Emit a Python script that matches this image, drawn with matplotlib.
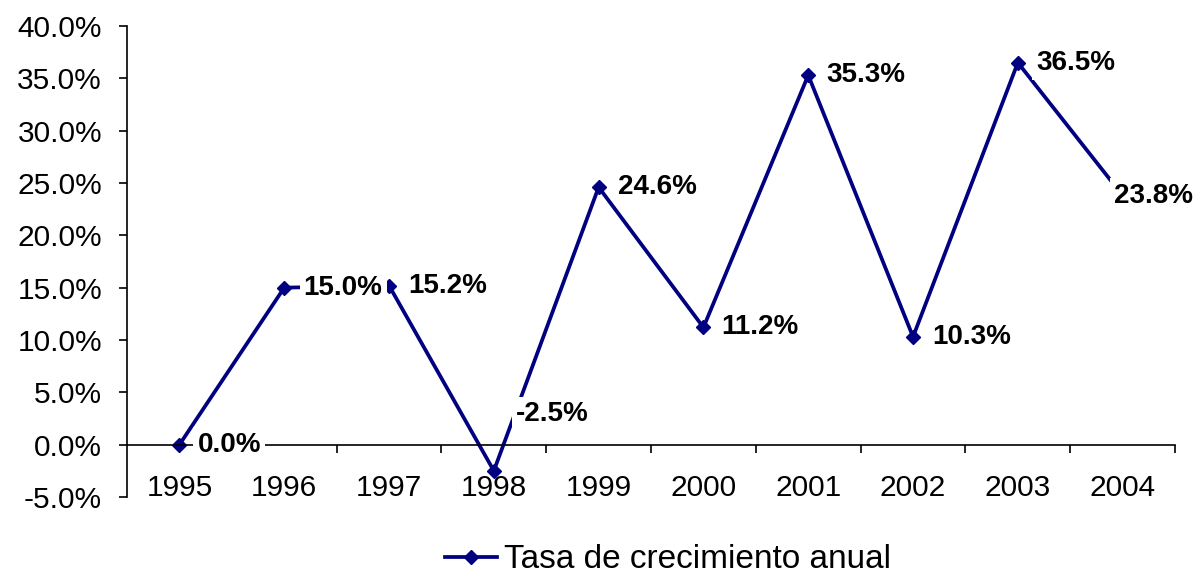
import matplotlib
matplotlib.use("Agg")
import matplotlib.pyplot as plt

# datos
years = ["1995", "1996", "1997", "1998", "1999", "2000", "2001", "2002", "2003", "2004"]
growth = [0.0, 15.0, 15.2, -2.5, 24.6, 11.2, 35.3, 10.3, 36.5, 23.8]
series_name = "Tasa de crecimiento anual"

# desplazamiento de etiquetas (puntos)
label_offsets = [(13, 0), (14, 0), (14, 0), (16, 41), (14, 0),
                 (13, 0), (13, 0), (14, 0), (13, 0), (-6, 0)]

plt.rcParams['font.family'] = ['Liberation Sans', 'DejaVu Sans']

fig = plt.figure(figsize=(11.95, 5.8), dpi=100)
ax = fig.add_axes([0.1063, 0.1431, 0.877, 0.8121])

x = list(range(len(years)))
line, = ax.plot(x, growth, color='#000080', linewidth=2.7, marker='D',
                markersize=7.5, label=series_name, zorder=2)

for xi, v, off in zip(x, growth, label_offsets):
    ax.annotate(f"{v:.1f}%", (xi, v), xytext=off, textcoords='offset points',
                ha='left', va='center', fontsize=20, fontweight='bold',
                bbox=dict(boxstyle='square,pad=0.15', fc='white', ec='none'),
                zorder=3)

ax.set_xlim(-0.5, len(years) - 0.5)
ax.set_ylim(-5, 40)
ax.set_yticks(range(-5, 41, 5))
ax.set_yticklabels([f"{t:.1f}%" for t in range(-5, 41, 5)])

ax.spines['top'].set_visible(False)
ax.spines['right'].set_visible(False)
ax.spines['bottom'].set_position(('data', 0))
ax.spines['left'].set_linewidth(1.2)
ax.spines['bottom'].set_linewidth(1.2)

ax.set_xticks(x)
ax.set_xticklabels(years)
ax.set_xticks([i + 0.5 for i in x], minor=True)
ax.tick_params(axis='x', which='major', length=0, pad=21, labelsize=21.5)
ax.tick_params(axis='x', which='minor', length=6, width=1.2, direction='out')
ax.tick_params(axis='y', length=6, width=1.2, pad=12, labelsize=21.5)

fig.legend(handles=[line], loc='center', bbox_to_anchor=(0.559, 0.035),
           frameon=False, fontsize=24, borderpad=0, handlelength=1.55,
           handletextpad=0.2)

fig.savefig("out.png", dpi=100)
